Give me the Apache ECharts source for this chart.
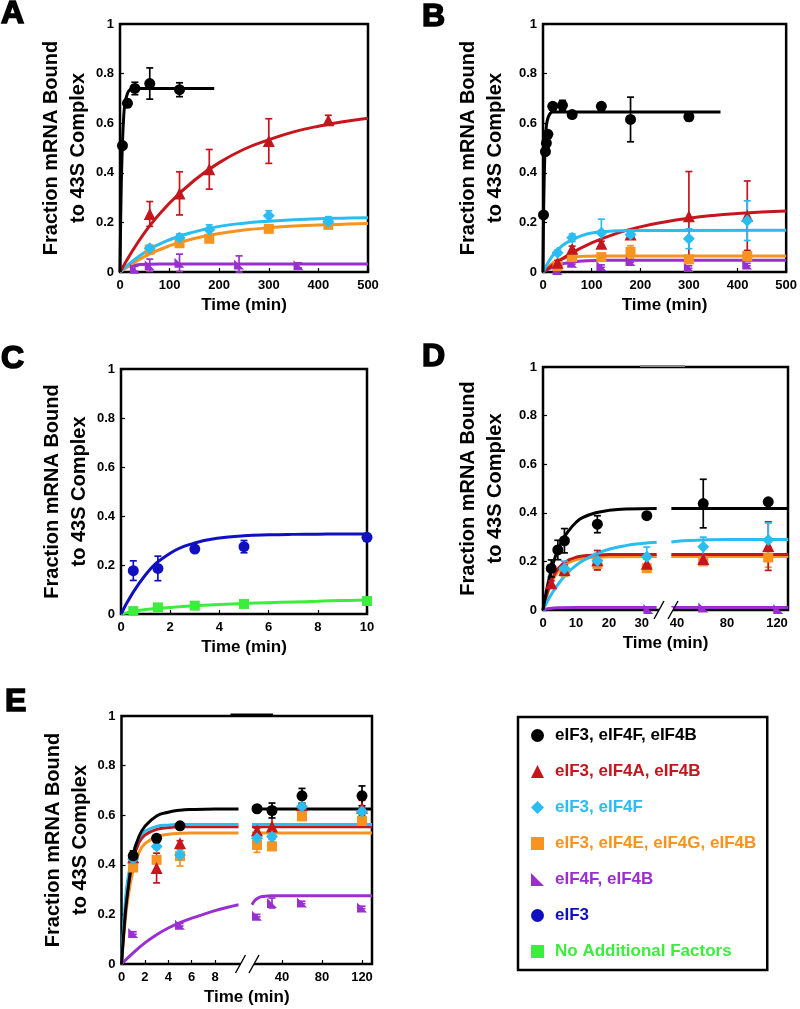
<!DOCTYPE html>
<html><head><meta charset="utf-8">
<script src="https://cdn.jsdelivr.net/npm/echarts/dist/echarts.min.js"></script>
<style>html,body{margin:0;padding:0;background:#fff}#chart{width:800px;height:1009px}</style>
</head><body><div id="chart"></div>
<script>
// ---------------- DATA ----------------
// Panel A
const aBlackT = [5, 15, 30, 60, 120];
const aBlackY = [0.51, 0.68, 0.74, 0.76, 0.735];
const aBlackErr = [0.01, 0.015, 0.025, 0.063, 0.028];
const aBlackFitT = [0, 1, 2, 3, 5, 7, 10, 15, 20, 30, 50, 190];
const aBlackFitY = [0, 0.16, 0.29, 0.39, 0.52, 0.61, 0.68, 0.72, 0.735, 0.74, 0.74, 0.74];
const aT = [60, 120, 180, 300, 420];
const aRedY = [0.234, 0.317, 0.414, 0.528, 0.612];
const aRedErr = [0.05, 0.087, 0.08, 0.09, 0.02];
const aCyanY = [0.096, 0.138, 0.17, 0.227, 0.203];
const aCyanErr = [0.012, 0.015, 0.02, 0.02, 0.02];
const aOrangeY = [0.09, 0.116, 0.134, 0.174, 0.19];
const aOrangeErr = [0.01, 0.01, 0.01, 0.01, 0.01];
const aPurpleT = [30, 60, 120, 240, 360];
const aPurpleY = [0.013, 0.027, 0.037, 0.03, 0.027];
const aPurpleErr = [0.01, 0.025, 0.035, 0.035, 0.01];
const aFitT = [0, 50, 100, 150, 200, 250, 300, 350, 400, 450, 500];
const aRedFitY = [0, 0.16, 0.278, 0.37, 0.441, 0.495, 0.533, 0.565, 0.588, 0.606, 0.62];
const aCyanFitY = [0, 0.08, 0.13, 0.162, 0.184, 0.197, 0.205, 0.211, 0.215, 0.217, 0.219];
const aOrangeFitY = [0, 0.063, 0.106, 0.135, 0.155, 0.169, 0.178, 0.185, 0.19, 0.193, 0.196];
const aPurpleFitT = [0, 10, 20, 40, 80, 500];
const aPurpleFitY = [0, 0.015, 0.025, 0.03, 0.032, 0.032];

// Panel B
const bBlackT = [1, 5, 7, 10, 20, 40, 60, 120, 180, 300];
const bBlackY = [0.23, 0.485, 0.52, 0.555, 0.668, 0.672, 0.635, 0.668, 0.615, 0.626];
const bBlackErr = [0.005, 0.01, 0.02, 0.01, 0.005, 0.02, 0.005, 0.005, 0.09, 0.015];
const bBlackFitT = [0, 1, 2, 3, 5, 7, 10, 15, 20, 30, 365];
const bBlackFitY = [0, 0.2, 0.33, 0.42, 0.53, 0.59, 0.62, 0.64, 0.645, 0.645, 0.645];
const bT = [30, 60, 120, 180, 300, 420];
const bRedY = [0.037, 0.094, 0.114, 0.151, 0.225, 0.227];
const bRedErr = [0.01, 0.01, 0.01, 0.01, 0.18, 0.14];
const bCyanY = [0.078, 0.138, 0.158, 0.151, 0.134, 0.207];
const bCyanErr = [0.01, 0.015, 0.055, 0.01, 0.04, 0.08];
const bOrangeY = [0.024, 0.06, 0.06, 0.081, 0.051, 0.064];
const bOrangeErr = [0.005, 0.01, 0.005, 0.025, 0.01, 0.01];
const bPurpleY = [0.008, 0.037, 0.024, 0.044, 0.02, 0.03];
const bPurpleErr = [0.005, 0.005, 0.005, 0.005, 0.005, 0.005];
const bRedFitT = [0, 50, 100, 150, 200, 250, 300, 350, 400, 450, 500];
const bRedFitY = [0, 0.066, 0.117, 0.155, 0.182, 0.202, 0.217, 0.228, 0.236, 0.242, 0.246];
const bCyanFitT = [0, 20, 40, 60, 80, 100, 130, 160, 200, 500];
const bCyanFitY = [0, 0.067, 0.107, 0.13, 0.147, 0.157, 0.163, 0.166, 0.167, 0.168];
const bOrangeFitT = [0, 20, 40, 60, 80, 120, 500];
const bOrangeFitY = [0, 0.036, 0.054, 0.06, 0.063, 0.065, 0.065];
const bPurpleFitT = [0, 20, 40, 60, 90, 130, 500];
const bPurpleFitY = [0, 0.02, 0.033, 0.04, 0.045, 0.047, 0.047];

// Panel C
const cT = [0.5, 1.5, 3, 5, 10];
const cBlueY = [0.177, 0.186, 0.265, 0.275, 0.313];
const cBlueErr = [0.04, 0.05, 0.005, 0.025, 0.005];
const cGreenY = [0.012, 0.027, 0.034, 0.041, 0.053];
const cGreenErr = [0.004, 0.004, 0.004, 0.004, 0.004];
const cFitT = [0, 1, 2, 3, 4, 5, 6, 7, 8, 9, 10];
const cBlueFitY = [0, 0.16, 0.248, 0.29, 0.31, 0.319, 0.323, 0.325, 0.326, 0.327, 0.327];
const cGreenFitY = [0, 0.018, 0.027, 0.034, 0.039, 0.043, 0.046, 0.049, 0.052, 0.055, 0.057];

// Panel D (broken time axis)
const dBlackT = [2.5, 4.5, 6.5, 16.5, 31.5, 61, 113];
const dBlackY = [0.171, 0.247, 0.285, 0.353, 0.388, 0.438, 0.445];
const dBlackErr = [0.035, 0.04, 0.05, 0.035, 0.01, 0.1, 0.005];
const dRedT = [2.5, 6.5, 16.5, 31.5, 61, 113];
const dRedY = [0.11, 0.165, 0.205, 0.19, 0.21, 0.263];
const dRedErr = [0.01, 0.02, 0.04, 0.02, 0.02, 0.1];
const dOrangeT = [6.5, 16.5, 31.5, 61, 113];
const dOrangeY = [0.158, 0.19, 0.172, 0.2, 0.216];
const dOrangeErr = [0.02, 0.025, 0.015, 0.015, 0.04];
const dCyanT = [6.5, 16.5, 31.5, 61, 113];
const dCyanY = [0.171, 0.203, 0.219, 0.26, 0.288];
const dCyanErr = [0.03, 0.03, 0.04, 0.04, 0.07];
const dPurpleT = [32, 61, 121];
const dPurpleY = [0.004, 0.01, 0.004];
const dBlackFitT = [0, 2, 4, 6, 8, 10, 12, 16, 20, 25, 34.5, 35.5, 129];
const dBlackFitY = [0, 0.138, 0.23, 0.29, 0.33, 0.36, 0.38, 0.4, 0.41, 0.416, 0.418, 0.418, 0.418];
const dRedFitT = [0, 2, 4, 6, 8, 10, 12, 16, 20, 34.5, 35.5, 129];
const dRedFitY = [0, 0.103, 0.159, 0.19, 0.207, 0.217, 0.222, 0.226, 0.228, 0.228, 0.228, 0.228];
const dOrangeFitT = [0, 2, 4, 6, 8, 10, 12, 16, 20, 34.5, 35.5, 129];
const dOrangeFitY = [0, 0.094, 0.148, 0.178, 0.197, 0.207, 0.212, 0.217, 0.219, 0.22, 0.22, 0.22];
const dCyanFitT = [0, 2, 4, 6, 8, 10, 12, 16, 20, 25, 30, 34.5, 35.5, 45, 60, 80, 129];
const dCyanFitY = [0, 0.052, 0.095, 0.131, 0.16, 0.183, 0.202, 0.23, 0.25, 0.265, 0.274, 0.279, 0.28, 0.285, 0.288, 0.29, 0.29];
const dPurpleFitT = [0, 2, 5, 10, 34.5, 35.5, 129];
const dPurpleFitY = [0, 0.006, 0.009, 0.01, 0.01, 0.01, 0.01];

// Panel E (broken time axis)
const eT = [1, 3, 5, 15, 30, 60, 120];
const eBlackY = [0.436, 0.507, 0.557, 0.626, 0.619, 0.678, 0.678];
const eBlackErr = [0.02, 0.01, 0.01, 0.01, 0.03, 0.03, 0.04];
const eRedY = [0.43, 0.387, 0.487, 0.538, 0.554, 0.64, 0.63];
const eRedErr = [0.02, 0.06, 0.01, 0.01, 0.05, 0.03, 0.03];
const eCyanY = [0.423, 0.474, 0.44, 0.507, 0.514, 0.635, 0.615];
const eCyanErr = [0.01, 0.01, 0.02, 0.01, 0.02, 0.01, 0.01];
const eOrangeY = [0.389, 0.42, 0.435, 0.48, 0.474, 0.595, 0.577];
const eOrangeErr = [0.01, 0.01, 0.04, 0.03, 0.01, 0.01, 0.01];
const ePurpleT = [1, 5, 15, 30, 60, 120];
const ePurpleY = [0.125, 0.158, 0.195, 0.246, 0.248, 0.228];
const ePurpleErr = [0.005, 0.005, 0.005, 0.02, 0.005, 0.005];
const eFitT = [0, 0.25, 0.5, 1, 1.5, 2, 3, 4, 5, 6, 8, 10, 130];
const eBlackFitY = [0, 0.16, 0.28, 0.44, 0.515, 0.555, 0.597, 0.612, 0.62, 0.623, 0.625, 0.625, 0.625];
const eCyanFitY = [0, 0.2, 0.33, 0.45, 0.51, 0.535, 0.555, 0.56, 0.563, 0.563, 0.563, 0.563, 0.563];
const eRedFitY = [0, 0.17, 0.29, 0.42, 0.49, 0.52, 0.543, 0.55, 0.553, 0.553, 0.553, 0.553, 0.553];
const eOrangeFitY = [0, 0.14, 0.25, 0.38, 0.45, 0.485, 0.513, 0.523, 0.527, 0.528, 0.528, 0.528, 0.528];
const ePurpleFitT = [0, 1, 2, 3, 4, 5, 6, 7, 8, 9, 10, 13, 16, 20, 25, 30, 130];
const ePurpleFitY = [0, 0.045, 0.085, 0.118, 0.145, 0.167, 0.185, 0.2, 0.215, 0.228, 0.239, 0.257, 0.266, 0.272, 0.274, 0.275, 0.275];

// Tick labels
const yTicks = [0, 0.2, 0.4, 0.6, 0.8, 1];
const abTicks = [0, 100, 200, 300, 400, 500];
const cTicks = [0, 2, 4, 6, 8, 10];
const dLeftTicks = [0, 10, 20, 30];
const dRightTicks = [40, 80, 120];
const eLeftTicks = [0, 2, 4, 6, 8];
const eRightTicks = [40, 80, 120];

const NAMES = {black:'eIF3, eIF4F, eIF4B', red:'eIF3, eIF4A, eIF4B', cyan:'eIF3, eIF4F',
  orange:'eIF3, eIF4E, eIF4G, eIF4B', purple:'eIF4F, eIF4B', blue:'eIF3', green:'No Additional Factors'};
const LEGEND_ORDER = ['black','red','cyan','orange','purple','blue','green'];

// ---------------- STYLE / LAYOUT ----------------
const FONT = "'Liberation Sans', Arial, sans-serif";
const COL = {black:'#000000', red:'#c4161c', cyan:'#29bdf2', orange:'#f7931e', purple:'#9a2fd0', blue:'#1010c0', green:'#3ded3d'};
const SYM = {black:'circle', red:'triangle', cyan:'diamond', orange:'rect', purple:'path://M0,0 L0,10 L10,10 Z', blue:'circle', green:'rect'};
const SIZE = {black:11, red:12, cyan:12, orange:10, purple:10, blue:11, green:10};

const G = [
  {left:120, top:24, width:248, height:248},     // 0 A
  {left:543, top:24, width:247, height:248},     // 1 B
  {left:121, top:369, width:246, height:245},    // 2 C
  {left:543, top:367, width:114, height:243},    // 3 D left
  {left:671, top:367, width:117, height:243},    // 4 D right
  {left:121.5, top:716, width:117, height:248},  // 5 E left
  {left:252, top:716, width:120, height:248},    // 6 E right
  {left:543, top:367, width:245, height:243},    // 7 D frame
  {left:121.5, top:716, width:250.5, height:248} // 8 E frame
];
const FRAMED = [0, 1, 2, 7, 8];

const labelStyle = {fontFamily:FONT, fontWeight:'bold', fontSize:13, color:'#000'};
const xNameStyle = {fontFamily:FONT, fontWeight:'bold', fontSize:17, color:'#000'};
const yNameStyle = {fontFamily:FONT, fontWeight:'bold', fontSize:20, color:'#000', lineHeight:27};
const Y_NAME = 'Fraction mRNA Bound\nto 43S Complex';
const X_NAME = 'Time (min)';

function xAx(g, min, max, ticks, name) {
  if (!ticks) return {gridIndex:g, type:'value', min, max, axisLine:{show:false}, axisTick:{show:false},
    axisLabel:{show:false}, splitLine:{show:false}, name:name||'', nameLocation:'middle', nameGap:25, nameTextStyle:xNameStyle};
  return {gridIndex:g, type:'value', min, max, axisLine:{show:false}, splitLine:{show:false},
    axisTick:{show:true, inside:true, length:4, lineStyle:{color:'#000', width:1.2}, customValues:ticks},
    axisLabel:{show:true, margin:7, customValues:ticks, ...labelStyle},
    name:name||'', nameLocation:'middle', nameGap:25, nameTextStyle:xNameStyle};
}
function yAx(g, labels, name, gap) {
  return {gridIndex:g, type:'value', min:0, max:1, axisLine:{show:false}, splitLine:{show:false},
    axisTick:{show:labels, inside:true, length:4, lineStyle:{color:'#000', width:1.2}, customValues:yTicks},
    axisLabel:{show:labels, margin:6, customValues:yTicks, ...labelStyle},
    name:name||'', nameLocation:'middle', nameRotate:90, nameGap:gap||28, nameTextStyle:yNameStyle};
}

const xAxes = [
  xAx(0, 0, 500, abTicks, X_NAME),
  xAx(1, 0, 500, abTicks, X_NAME),
  xAx(2, 0, 10, cTicks, X_NAME),
  xAx(3, 0, 34.6, dLeftTicks),
  xAx(4, 35.2, 128.8, dRightTicks),
  xAx(5, 0, 10, eLeftTicks),
  xAx(6, 10, 130, eRightTicks),
  xAx(7, 0, 1, null, X_NAME),
  xAx(8, 0, 1, null, X_NAME)
];
const yAxes = [
  yAx(0, true, Y_NAME, 27.5),
  yAx(1, true, Y_NAME, 34.5),
  yAx(2, true, Y_NAME, 27.5),
  yAx(3, true),
  yAx(4, false),
  yAx(5, true),
  yAx(6, false),
  yAx(7, false, Y_NAME, 34.5),
  yAx(8, false, Y_NAME, 27.5)
];

const series = [];
function errSeries(g, color, pts) {
  return {type:'custom', xAxisIndex:g, yAxisIndex:g, silent:true, z:3, data:pts,
    renderItem: function (params, api) {
      const x = api.value(0), y = api.value(1), e = api.value(2);
      const top = api.coord([x, y + e]), bot = api.coord([x, Math.max(0, y - e)]);
      const w = 3.5, st = {stroke:color, lineWidth:1.7};
      return {type:'group', children:[
        {type:'line', shape:{x1:top[0], y1:top[1], x2:bot[0], y2:bot[1]}, style:st},
        {type:'line', shape:{x1:top[0]-w, y1:top[1], x2:top[0]+w, y2:top[1]}, style:st},
        {type:'line', shape:{x1:bot[0]-w, y1:bot[1], x2:bot[0]+w, y2:bot[1]}, style:st}]};
    }};
}
function addGroup(g, key, t, y, err, ft, fy, range) {
  const inR = v => !range || (v >= range[0] && v <= range[1]);
  const fit = ft.map((v, i) => [v, fy[i]]).filter(p => inR(p[0]));
  if (fit.length > 1) series.push({type:'line', name:NAMES[key], xAxisIndex:g, yAxisIndex:g, data:fit,
    smooth:0.45, showSymbol:false, symbol:'none',
    lineStyle:{color:COL[key], width:3}, itemStyle:{color:COL[key]}, z:2, silent:true});
  const pts = t.map((v, i) => [v, y[i], err ? err[i] : 0]).filter(p => inR(p[0]));
  if (err) series.push(errSeries(g, COL[key], pts));
  series.push({type:'scatter', name:NAMES[key], xAxisIndex:g, yAxisIndex:g, data:pts.map(p => [p[0], p[1]]),
    symbol:SYM[key], symbolSize:SIZE[key], itemStyle:{color:COL[key], opacity:1}, z:4, silent:true});
}

// A
addGroup(0, 'purple', aPurpleT, aPurpleY, aPurpleErr, aPurpleFitT, aPurpleFitY);
addGroup(0, 'orange', aT, aOrangeY, aOrangeErr, aFitT, aOrangeFitY);
addGroup(0, 'cyan', aT, aCyanY, aCyanErr, aFitT, aCyanFitY);
addGroup(0, 'red', aT, aRedY, aRedErr, aFitT, aRedFitY);
addGroup(0, 'black', aBlackT, aBlackY, aBlackErr, aBlackFitT, aBlackFitY);
// B
addGroup(1, 'purple', bT, bPurpleY, bPurpleErr, bPurpleFitT, bPurpleFitY);
addGroup(1, 'orange', bT, bOrangeY, bOrangeErr, bOrangeFitT, bOrangeFitY);
addGroup(1, 'red', bT, bRedY, bRedErr, bRedFitT, bRedFitY);
addGroup(1, 'cyan', bT, bCyanY, bCyanErr, bCyanFitT, bCyanFitY);
addGroup(1, 'black', bBlackT, bBlackY, bBlackErr, bBlackFitT, bBlackFitY);
// C
addGroup(2, 'green', cT, cGreenY, cGreenErr, cFitT, cGreenFitY);
addGroup(2, 'blue', cT, cBlueY, cBlueErr, cFitT, cBlueFitY);
// D
[[3, [0, 34.6]], [4, [35.2, 129]]].forEach(([g, r]) => {
  addGroup(g, 'purple', dPurpleT, dPurpleY, null, dPurpleFitT, dPurpleFitY, r);
  addGroup(g, 'orange', dOrangeT, dOrangeY, dOrangeErr, dOrangeFitT, dOrangeFitY, r);
  addGroup(g, 'red', dRedT, dRedY, dRedErr, dRedFitT, dRedFitY, r);
  addGroup(g, 'cyan', dCyanT, dCyanY, dCyanErr, dCyanFitT, dCyanFitY, r);
  addGroup(g, 'black', dBlackT, dBlackY, dBlackErr, dBlackFitT, dBlackFitY, r);
});
// E
[[5, [0, 10]], [6, [10, 130]]].forEach(([g, r]) => {
  addGroup(g, 'purple', ePurpleT, ePurpleY, ePurpleErr, ePurpleFitT, ePurpleFitY, r);
  addGroup(g, 'orange', eT, eOrangeY, eOrangeErr, eFitT, eOrangeFitY, r);
  addGroup(g, 'red', eT, eRedY, eRedErr, eFitT, eRedFitY, r);
  addGroup(g, 'cyan', eT, eCyanY, eCyanErr, eFitT, eCyanFitY, r);
  addGroup(g, 'black', eT, eBlackY, eBlackErr, eFitT, eBlackFitY, r);
});

// axis-break decorations (derived from grid layout)
function breakMarks(lg, rg, fr, topColor, topW, topL, topR) {
  const y = fr.top + fr.height;
  const s1 = lg.left + lg.width + 2, s2 = rg.left + 2;
  return [
    {type:'rect', shape:{x:s1, y:y - 2.5, width:s2 - s1, height:5}, style:{fill:'#fff'}, z:100},
    {type:'line', shape:{x1:s1 - 5, y1:y + 9, x2:s1 + 5, y2:y - 9}, style:{stroke:'#000', lineWidth:1.4}, z:101},
    {type:'line', shape:{x1:s2 - 5, y1:y + 9, x2:s2 + 5, y2:y - 9}, style:{stroke:'#000', lineWidth:1.4}, z:101},
    {type:'line', shape:{x1:s1 - topL, y1:fr.top - 1, x2:s2 + topR, y2:fr.top - 1}, style:{stroke:topColor, lineWidth:topW}, z:101}
  ];
}
const graphics = [].concat(
  breakMarks(G[3], G[4], G[7], '#888', 2, 19, 12),
  breakMarks(G[5], G[6], G[8], '#000', 3, 10, 19)
);

const letterStyle = {fontFamily:FONT, fontWeight:'bold', fontSize:32, color:'#000', textBorderColor:'#000', textBorderWidth:1.6};
const titles = [
  {text:'A', left:1, top:-2}, {text:'B', left:422, top:1.5}, {text:'C', left:1, top:343},
  {text:'D', left:422, top:341.5}, {text:'E', left:5, top:686}
].map(t => Object.assign(t, {padding:0, textStyle:letterStyle}));

const chart = echarts.init(document.getElementById('chart'), null, {renderer:'canvas'});
chart.setOption({
  animation:false,
  backgroundColor:'#fff',
  title:titles,
  grid:G.map((g, i) => Object.assign({}, g, {containLabel:false, show:FRAMED.includes(i), borderColor:'#000', borderWidth:2.5, backgroundColor:'transparent'})),
  xAxis:xAxes,
  yAxis:yAxes,
  legend:{orient:'vertical', left:518, top:717, padding:[10, 11, 10, 13], itemGap:19, itemWidth:13, itemHeight:13,
    borderColor:'#000', borderWidth:2.5, selectedMode:false,
    textStyle:{fontFamily:FONT, fontWeight:'bold', fontSize:17, padding:[0, 0, 0, 6]},
    data:LEGEND_ORDER.map(k => ({name:NAMES[k], icon:SYM[k], itemStyle:{color:COL[k]}, textStyle:{color:COL[k]}}))},
  graphic:graphics,
  series:series
});
</script></body></html>
